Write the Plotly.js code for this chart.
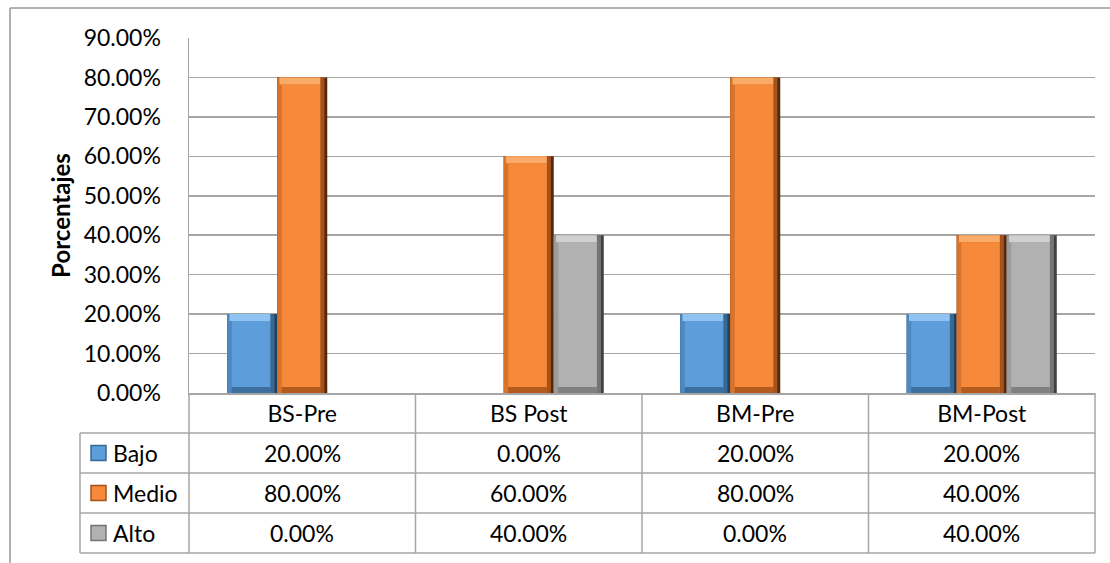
<!DOCTYPE html>
<html>
<head>
<meta charset="utf-8">
<script src="https://cdn.plot.ly/plotly-3.0.1.min.js"></script>
<style>
  html, body { margin: 0; padding: 0; background: #ffffff; }
  #chart { width: 1110px; height: 563px; }
</style>
</head>
<body>
<div id="chart"></div>
<script>
// Categories and series values (percentages)
const categories = ['BS-Pre', 'BS Post', 'BM-Pre', 'BM-Post'];
const bajo  = [20, 0, 20, 20];
const medio = [80, 60, 80, 40];
const alto  = [0, 40, 0, 40];
const seriesNames = ['Bajo', 'Medio', 'Alto'];
const yTitle = 'Porcentajes';

const seriesValues = [bajo, medio, alto];

// Bevelled bar shading per series
const palettes = [
  { main: '#5D9EDA', left: '#4D88C2', rightMid: '#3A6894', right: '#22435F', top: '#8FC4F2', bottom: '#3D6F9E' },
  { main: '#F7893A', left: '#D7732C', rightMid: '#A4521C', right: '#55280C', top: '#FBAB68', bottom: '#B35A1F' },
  { main: '#B1B1B1', left: '#9B9B9B', rightMid: '#747474', right: '#404040', top: '#D0D0D0', bottom: '#808080' }
];

// Page geometry (pixels)
const W = 1110, H = 563;
const M = { l: 189, r: 15, t: 38, b: 170 };
const plotW = W - M.l - M.r, plotH = H - M.t - M.b;
const px = x => (x - M.l) / plotW;           // pixel x -> paper x
const py = y => (H - M.b - y) / plotH;       // pixel y -> paper y
const yMax = 90;
const unitsPerPx = yMax / plotH;
const catPx = plotW / categories.length;

const barW = 0.2208;                          // bar width in category units
const groupStart = -barW * 1.5;
const lIn = 4.5 / catPx, rIn = 7 / catPx;     // side bevel widths (category units)
const tIn = 7 * unitsPerPx, bIn = 6 * unitsPerPx; // top / bottom bevel heights

const font = 'Lato, "Open Sans", sans-serif';
const traces = [];

function layer(vals, fn, color, offset, width) {
  const ys = [], bases = [];
  vals.forEach(v => {
    if (!v) { ys.push(null); bases.push(0); return; }
    const r = fn(v);
    ys.push(r[1]); bases.push(r[0]);
  });
  traces.push({
    type: 'bar', x: categories, y: ys, base: bases,
    offset: offset, width: width,
    marker: { color: color, line: { width: 0 } },
    hoverinfo: 'skip', showlegend: false
  });
}

seriesValues.forEach((vals, s) => {
  const p = palettes[s];
  const o = groupStart + s * barW;
  layer(vals, v => [0, v], p.right, o, barW);
  layer(vals, v => [0, v], p.rightMid, o, barW - rIn * 0.4);
  layer(vals, v => [0, v], p.left, o, barW - rIn);
  layer(vals, v => [v - tIn, tIn], p.top, o + lIn * 0.5, barW - rIn - lIn * 0.5);
  layer(vals, v => [0, bIn], p.bottom, o + lIn, barW - lIn - rIn);
  layer(vals, v => [bIn, v - tIn - bIn], p.main, o + lIn, barW - lIn - rIn);
});

// Data table beneath the axis
const lineCol = '#A6A6A6';
const shapes = [];
const annotations = [];
const rowTop = 393, rowH = 40, leftCol = 80;
const nRows = seriesNames.length;
const tableBottom = rowTop + rowH * (nRows + 1);

function seg(x0, y0, x1, y1, color, width) {
  shapes.push({ type: 'line', xref: 'paper', yref: 'paper',
    x0: x0, y0: y0, x1: x1, y1: y1, line: { color: color, width: width } });
}

// vertical column separators
for (let i = 0; i <= categories.length; i++) {
  seg(i / categories.length, py(rowTop), i / categories.length, py(tableBottom), lineCol, 1.5);
}
seg(px(leftCol), py(rowTop + rowH), px(leftCol), py(tableBottom), lineCol, 1.5);
// horizontal row separators
for (let r = 1; r <= nRows; r++) {
  seg(px(leftCol), py(rowTop + rowH * r), 1, py(rowTop + rowH * r), lineCol, 1.5);
}
seg(px(leftCol), py(tableBottom), 1, py(tableBottom), lineCol, 1.5);

// legend keys and row values
seriesNames.forEach((name, s) => {
  const yc = rowTop + rowH * (s + 1) + rowH / 2;
  const p = palettes[s];
  shapes.push({ type: 'rect', xref: 'paper', yref: 'paper',
    x0: px(91), x1: px(106), y0: py(yc + 7.5), y1: py(yc - 7.5),
    fillcolor: p.main, line: { color: p.rightMid, width: 1.5 } });
  annotations.push({ xref: 'paper', yref: 'paper', x: px(111), y: py(yc),
    xanchor: 'left', yanchor: 'middle', showarrow: false, text: name,
    font: { family: font, size: 23, color: '#000000' } });
  seriesValues[s].forEach((v, i) => {
    annotations.push({ xref: 'x', yref: 'paper', x: categories[i], y: py(yc),
      xanchor: 'center', yanchor: 'middle', showarrow: false,
      text: v.toFixed(2) + '%',
      font: { family: font, size: 23, color: '#000000' } });
  });
});

// outer chart frame (top and left edges)
seg(px(10), py(8), px(W + 5), py(8), '#B0B0B0', 2);
seg(px(10), py(8), px(10), py(H + 5), '#B0B0B0', 2);

const layout = {
  width: W, height: H,
  margin: M,
  paper_bgcolor: '#ffffff', plot_bgcolor: '#ffffff',
  barmode: 'overlay',
  showlegend: false,
  font: { family: font, size: 23, color: '#000000' },
  xaxis: {
    type: 'category', range: [-0.5, categories.length - 0.5],
    showgrid: false, zeroline: false,
    showline: true, linecolor: lineCol, linewidth: 1.5,
    ticks: '', ticklabelstandoff: 0,
    tickfont: { family: font, size: 23, color: '#000000' },
    fixedrange: true
  },
  yaxis: {
    range: [0, yMax], dtick: 10, tick0: 0,
    tickformat: '.2f', ticksuffix: '%',
    showgrid: true, gridcolor: lineCol, gridwidth: 1.5,
    zeroline: false, showline: true, linecolor: lineCol, linewidth: 1.5,
    ticks: '', ticklabelstandoff: 22,
    tickfont: { family: font, size: 23, color: '#000000' },
    title: { text: yTitle, standoff: 6,
      font: { family: font, size: 24, color: '#000000', weight: 'bold' } },
    automargin: false, fixedrange: true
  },
  shapes: shapes,
  annotations: annotations
};

Plotly.newPlot('chart', traces, layout, { staticPlot: true, displayModeBar: false });
</script>
</body>
</html>
